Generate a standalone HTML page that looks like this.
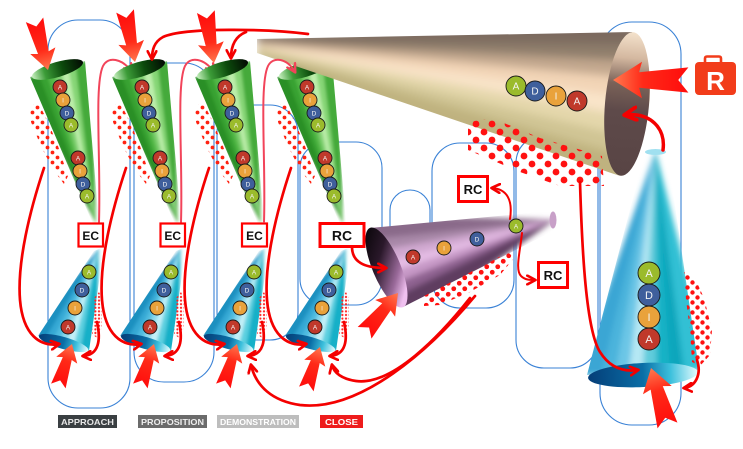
<!DOCTYPE html>
<html><head><meta charset="utf-8"><style>
html,body{margin:0;padding:0;background:#fff;}
svg{display:block;}
.k{stroke:#1a1a1a;stroke-width:.9}
.t{font-size:6.5px;fill:#f4f4f4;text-anchor:middle;font-family:"Liberation Sans",sans-serif}
.r{fill:none;stroke:#f40000;stroke-width:2.7;stroke-linecap:round}
.p{fill:none;stroke:#f2445a;stroke-width:2;stroke-linecap:round}
.bx{font-family:"Liberation Sans",sans-serif;font-weight:bold;text-anchor:middle;fill:#111}
.lg{font-family:"Liberation Sans",sans-serif;font-weight:bold;font-size:8.5px;text-anchor:middle}
</style></head><body>
<svg width="743" height="449" viewBox="0 0 743 449" xmlns="http://www.w3.org/2000/svg">
<defs>
<pattern id="pd" width="10" height="10" patternUnits="userSpaceOnUse"><circle cx="2.5" cy="2.5" r="1.9" fill="#f21"/><circle cx="7.5" cy="7.5" r="1.9" fill="#f21"/></pattern>
<pattern id="pf" width="3.6" height="3.6" patternUnits="userSpaceOnUse"><circle cx="1.8" cy="1.8" r="1.1" fill="#f22"/></pattern>
<pattern id="pb" width="16" height="16" patternUnits="userSpaceOnUse"><circle cx="4" cy="4" r="3.4" fill="#f11"/><circle cx="12" cy="12" r="3.4" fill="#f11"/></pattern>
<pattern id="pm" width="11" height="11" patternUnits="userSpaceOnUse"><circle cx="2.75" cy="2.75" r="2.4" fill="#f11"/><circle cx="8.25" cy="8.25" r="2.4" fill="#f11"/></pattern>
<pattern id="pr" width="10" height="10" patternUnits="userSpaceOnUse"><circle cx="2.5" cy="2.5" r="2.2" fill="#f11"/><circle cx="7.5" cy="7.5" r="2.2" fill="#f11"/></pattern>
<marker id="ah" viewBox="0 0 10 10" refX="8" refY="5" markerWidth="11" markerHeight="11" markerUnits="userSpaceOnUse" orient="auto"><path d="M1,1 L8.5,5 L1,9" fill="none" stroke="#f40000" stroke-width="2.4" stroke-linecap="round" stroke-linejoin="round"/></marker>
<marker id="ahp" viewBox="0 0 10 10" refX="8" refY="5" markerWidth="11" markerHeight="11" markerUnits="userSpaceOnUse" orient="auto"><path d="M1,1 L8.5,5 L1,9" fill="none" stroke="#f2445a" stroke-width="2.2" stroke-linecap="round" stroke-linejoin="round"/></marker>
<marker id="ahb" viewBox="0 0 10 10" refX="8" refY="5" markerWidth="16" markerHeight="16" markerUnits="userSpaceOnUse" orient="auto"><path d="M1,1 L8.5,5 L1,9" fill="none" stroke="#f40000" stroke-width="2.4" stroke-linecap="round" stroke-linejoin="round"/></marker>
<linearGradient id="gA" gradientUnits="userSpaceOnUse" x1="-52" y1="0" x2="0" y2="0"><stop offset="0" stop-color="#ff0c0c"/><stop offset="0.6" stop-color="#ff2a18"/><stop offset="1" stop-color="#ff7a50"/></linearGradient>
<linearGradient id="gGT" x1="0" y1="0" x2="1" y2="0"><stop offset="0" stop-color="#c8f0c0"/><stop offset="0.25" stop-color="#3c9c38"/><stop offset="0.6" stop-color="#0c4a0c"/><stop offset="1" stop-color="#020a02"/></linearGradient>
<linearGradient id="gBB" x1="0" y1="0" x2="1" y2="0"><stop offset="0" stop-color="#053e78"/><stop offset="0.5" stop-color="#0a6ea6"/><stop offset="0.75" stop-color="#3cc0dc"/><stop offset="1" stop-color="#e6fcff"/></linearGradient>
<linearGradient id="gPI" x1="0" y1="0" x2="0.4" y2="1"><stop offset="0" stop-color="#000"/><stop offset="0.45" stop-color="#2a182a"/><stop offset="0.8" stop-color="#9a6a9a"/><stop offset="1" stop-color="#f0c0f0"/></linearGradient>
<linearGradient id="gBI" x1="0" y1="0" x2="0" y2="1"><stop offset="0" stop-color="#f4e2cc"/><stop offset="0.18" stop-color="#d4b8a0"/><stop offset="0.36" stop-color="#7a6258"/><stop offset="0.55" stop-color="#5e4a4a"/><stop offset="1" stop-color="#584444"/></linearGradient>
<filter id="b1" x="-20%" y="-20%" width="140%" height="140%"><feGaussianBlur stdDeviation="1.6"/></filter>
<filter id="b2" x="-20%" y="-20%" width="140%" height="140%"><feGaussianBlur stdDeviation="3"/></filter>
<filter id="b3" x="-20%" y="-20%" width="140%" height="140%"><feGaussianBlur stdDeviation="4.5"/></filter>
<clipPath id="clG"><polygon points="30,77 93,224 99,222 85,61"/></clipPath>
<clipPath id="clB"><polygon points="94,251 38,336 89,351 104,247"/></clipPath>
<clipPath id="clR"><polygon points="645,152 587,375 699,370 667,151"/></clipPath>
<clipPath id="clP"><polygon points="370,228 551,211 557,229 403,307"/></clipPath>
<clipPath id="clBe"><polygon points="257,39 632,32 642,45 648,62 650,80 650,100 647,120 641,140 632,158 620,176 257,53"/></clipPath>
</defs>
<rect width="743" height="449" fill="#fff"/>

<!-- blue outlines -->
<g fill="none" stroke="#3a82d6" stroke-width="1.1">
<rect x="48" y="20" width="82" height="388" rx="30"/>
<rect x="134" y="63" width="80" height="319" rx="30"/>
<rect x="217" y="105" width="81" height="235" rx="28"/>
<rect x="300" y="142" width="82" height="163" rx="26"/>
<rect x="390" y="190" width="40" height="110" rx="20"/>
<rect x="432" y="143" width="82" height="165" rx="28"/>
<rect x="516" y="135" width="82" height="233" rx="28"/>
<rect x="600" y="22" width="81" height="403" rx="32"/>
</g>

<!-- COLUMN 1 -->
<g>
<g clip-path="url(#clG)"><g filter="url(#b1)" stroke-width="0.6">
<polygon points="95.5,222 24,80 32,77" fill="#2a8f26" stroke="#2a8f26"/>
<polygon points="95.5,222 32,77 39.3,74.9" fill="#2a8f26" stroke="#2a8f26"/>
<polygon points="95.5,222 39.3,74.9 46.6,72.7" fill="#38a232" stroke="#38a232"/>
<polygon points="95.5,222 46.6,72.7 53.9,70.6" fill="#52b846" stroke="#52b846"/>
<polygon points="95.5,222 53.9,70.6 61.1,68.4" fill="#7fd070" stroke="#7fd070"/>
<polygon points="95.5,222 61.1,68.4 68.4,66.3" fill="#bdeeab" stroke="#bdeeab"/>
<polygon points="95.5,222 68.4,66.3 75.7,64.1" fill="#86d676" stroke="#86d676"/>
<polygon points="95.5,222 75.7,64.1 83,62" fill="#44aa3a" stroke="#44aa3a"/>
<polygon points="95.5,222 83,62 92,59" fill="#44aa3a" stroke="#44aa3a"/>
</g></g>
<ellipse cx="57.5" cy="69.5" rx="26.5" ry="7.5" transform="rotate(-16.4 57.5 69.5)" fill="url(#gGT)"/>
<polygon points="30,106 38,102 48,122 58,146 68,176 64,184 52,168 40,144 31,122" fill="url(#pd)"/>
<circle class="k" cx="60" cy="87" r="7" fill="#c0392b"/><text class="t" x="60" y="89.3">A</text>
<circle class="k" cx="63" cy="100" r="7" fill="#e9a23b"/><text class="t" x="63" y="102.3">I</text>
<circle class="k" cx="67" cy="113" r="7" fill="#3f5f9c"/><text class="t" x="67" y="115.3">D</text>
<circle class="k" cx="71" cy="125" r="7" fill="#9bbb2c"/><text class="t" x="71" y="127.3">A</text>
<circle class="k" cx="78" cy="158" r="7" fill="#c0392b"/><text class="t" x="78" y="160.3">A</text>
<circle class="k" cx="80" cy="171" r="7" fill="#e9a23b"/><text class="t" x="80" y="173.3">I</text>
<circle class="k" cx="83" cy="184" r="7" fill="#3f5f9c"/><text class="t" x="83" y="186.3">D</text>
<circle class="k" cx="87" cy="196" r="7" fill="#9bbb2c"/><text class="t" x="87" y="198.3">A</text>
<g clip-path="url(#clB)"><g filter="url(#b1)" stroke-width="0.6">
<polygon points="98.5,249 31,333 39,336" fill="#1e90c0" stroke="#1e90c0"/>
<polygon points="98.5,249 39,336 46,338" fill="#1e90c0" stroke="#1e90c0"/>
<polygon points="98.5,249 46,338 53,340" fill="#34a8d4" stroke="#34a8d4"/>
<polygon points="98.5,249 53,340 60,342" fill="#50bce0" stroke="#50bce0"/>
<polygon points="98.5,249 60,342 67,344" fill="#8ad8ec" stroke="#8ad8ec"/>
<polygon points="98.5,249 67,344 74,346" fill="#c4f0f8" stroke="#c4f0f8"/>
<polygon points="98.5,249 74,346 81,348" fill="#5cd0e0" stroke="#5cd0e0"/>
<polygon points="98.5,249 81,348 88,350" fill="#18b0c8" stroke="#18b0c8"/>
<polygon points="98.5,249 88,350 96,353" fill="#18b0c8" stroke="#18b0c8"/>
</g></g>
<ellipse cx="63.5" cy="343" rx="25.5" ry="6" transform="rotate(16 63.5 343)" fill="url(#gBB)"/>
<polygon points="94,298 99,292 102,298 102,328 97,338 92,334 94,315" fill="url(#pf)"/>
<circle class="k" cx="89" cy="272" r="7" fill="#9bbb2c"/><text class="t" x="89" y="274.3">A</text>
<circle class="k" cx="82" cy="290" r="7" fill="#3f5f9c"/><text class="t" x="82" y="292.3">D</text>
<circle class="k" cx="75" cy="308" r="7" fill="#e9a23b"/><text class="t" x="75" y="310.3">I</text>
<circle class="k" cx="68" cy="327" r="7" fill="#c0392b"/><text class="t" x="68" y="329.3">A</text>
<path d="M44,168 C30,210 17,262 20,300 C23,335 40,347 59,344" class="r" marker-end="url(#ah)"/>
<path d="M97,322 C101,340 99,355 83,356" class="r" marker-end="url(#ah)"/>
<path transform="translate(72,344) rotate(-72) scale(0.85)" d="M0,0 L-20,-13 L-18,-5.5 L-52,-9 L-45,0 L-52,9 L-18,5.5 L-20,13 Z" fill="url(#gA)"/>
<path d="M99,222 C101,160 94,85 103,66 C108,56 122,58 132,72" class="p" marker-end="url(#ahp)"/>
<rect x="78.5" y="223.5" width="24.5" height="23" fill="#fff" stroke="#f00" stroke-width="2.2"/><text class="bx" x="90.7" y="240" font-size="12">EC</text>
</g>

<!-- COLUMN 2 -->
<g transform="translate(82,0)">
<g clip-path="url(#clG)"><g filter="url(#b1)" stroke-width="0.6">
<polygon points="95.5,222 24,80 32,77" fill="#2a8f26" stroke="#2a8f26"/>
<polygon points="95.5,222 32,77 39.3,74.9" fill="#2a8f26" stroke="#2a8f26"/>
<polygon points="95.5,222 39.3,74.9 46.6,72.7" fill="#38a232" stroke="#38a232"/>
<polygon points="95.5,222 46.6,72.7 53.9,70.6" fill="#52b846" stroke="#52b846"/>
<polygon points="95.5,222 53.9,70.6 61.1,68.4" fill="#7fd070" stroke="#7fd070"/>
<polygon points="95.5,222 61.1,68.4 68.4,66.3" fill="#bdeeab" stroke="#bdeeab"/>
<polygon points="95.5,222 68.4,66.3 75.7,64.1" fill="#86d676" stroke="#86d676"/>
<polygon points="95.5,222 75.7,64.1 83,62" fill="#44aa3a" stroke="#44aa3a"/>
<polygon points="95.5,222 83,62 92,59" fill="#44aa3a" stroke="#44aa3a"/>
</g></g>
<ellipse cx="57.5" cy="69.5" rx="26.5" ry="7.5" transform="rotate(-16.4 57.5 69.5)" fill="url(#gGT)"/>
<polygon points="30,106 38,102 48,122 58,146 68,176 64,184 52,168 40,144 31,122" fill="url(#pd)"/>
<circle class="k" cx="60" cy="87" r="7" fill="#c0392b"/><text class="t" x="60" y="89.3">A</text>
<circle class="k" cx="63" cy="100" r="7" fill="#e9a23b"/><text class="t" x="63" y="102.3">I</text>
<circle class="k" cx="67" cy="113" r="7" fill="#3f5f9c"/><text class="t" x="67" y="115.3">D</text>
<circle class="k" cx="71" cy="125" r="7" fill="#9bbb2c"/><text class="t" x="71" y="127.3">A</text>
<circle class="k" cx="78" cy="158" r="7" fill="#c0392b"/><text class="t" x="78" y="160.3">A</text>
<circle class="k" cx="80" cy="171" r="7" fill="#e9a23b"/><text class="t" x="80" y="173.3">I</text>
<circle class="k" cx="83" cy="184" r="7" fill="#3f5f9c"/><text class="t" x="83" y="186.3">D</text>
<circle class="k" cx="87" cy="196" r="7" fill="#9bbb2c"/><text class="t" x="87" y="198.3">A</text>
<g clip-path="url(#clB)"><g filter="url(#b1)" stroke-width="0.6">
<polygon points="98.5,249 31,333 39,336" fill="#1e90c0" stroke="#1e90c0"/>
<polygon points="98.5,249 39,336 46,338" fill="#1e90c0" stroke="#1e90c0"/>
<polygon points="98.5,249 46,338 53,340" fill="#34a8d4" stroke="#34a8d4"/>
<polygon points="98.5,249 53,340 60,342" fill="#50bce0" stroke="#50bce0"/>
<polygon points="98.5,249 60,342 67,344" fill="#8ad8ec" stroke="#8ad8ec"/>
<polygon points="98.5,249 67,344 74,346" fill="#c4f0f8" stroke="#c4f0f8"/>
<polygon points="98.5,249 74,346 81,348" fill="#5cd0e0" stroke="#5cd0e0"/>
<polygon points="98.5,249 81,348 88,350" fill="#18b0c8" stroke="#18b0c8"/>
<polygon points="98.5,249 88,350 96,353" fill="#18b0c8" stroke="#18b0c8"/>
</g></g>
<ellipse cx="63.5" cy="343" rx="25.5" ry="6" transform="rotate(16 63.5 343)" fill="url(#gBB)"/>
<polygon points="94,298 99,292 102,298 102,328 97,338 92,334 94,315" fill="url(#pf)"/>
<circle class="k" cx="89" cy="272" r="7" fill="#9bbb2c"/><text class="t" x="89" y="274.3">A</text>
<circle class="k" cx="82" cy="290" r="7" fill="#3f5f9c"/><text class="t" x="82" y="292.3">D</text>
<circle class="k" cx="75" cy="308" r="7" fill="#e9a23b"/><text class="t" x="75" y="310.3">I</text>
<circle class="k" cx="68" cy="327" r="7" fill="#c0392b"/><text class="t" x="68" y="329.3">A</text>
<path d="M44,168 C30,210 17,262 20,300 C23,335 40,347 59,344" class="r" marker-end="url(#ah)"/>
<path d="M97,322 C101,340 99,355 83,356" class="r" marker-end="url(#ah)"/>
<path transform="translate(72,344) rotate(-72) scale(0.85)" d="M0,0 L-20,-13 L-18,-5.5 L-52,-9 L-45,0 L-52,9 L-18,5.5 L-20,13 Z" fill="url(#gA)"/>
<path d="M99,222 C101,160 94,85 103,66 C108,56 122,58 132,72" class="p" marker-end="url(#ahp)"/>
<rect x="78.5" y="223.5" width="24.5" height="23" fill="#fff" stroke="#f00" stroke-width="2.2"/><text class="bx" x="90.7" y="240" font-size="12">EC</text>
</g>

<!-- COLUMN 3 -->
<g transform="translate(165,0)">
<g clip-path="url(#clG)"><g filter="url(#b1)" stroke-width="0.6">
<polygon points="95.5,222 24,80 32,77" fill="#2a8f26" stroke="#2a8f26"/>
<polygon points="95.5,222 32,77 39.3,74.9" fill="#2a8f26" stroke="#2a8f26"/>
<polygon points="95.5,222 39.3,74.9 46.6,72.7" fill="#38a232" stroke="#38a232"/>
<polygon points="95.5,222 46.6,72.7 53.9,70.6" fill="#52b846" stroke="#52b846"/>
<polygon points="95.5,222 53.9,70.6 61.1,68.4" fill="#7fd070" stroke="#7fd070"/>
<polygon points="95.5,222 61.1,68.4 68.4,66.3" fill="#bdeeab" stroke="#bdeeab"/>
<polygon points="95.5,222 68.4,66.3 75.7,64.1" fill="#86d676" stroke="#86d676"/>
<polygon points="95.5,222 75.7,64.1 83,62" fill="#44aa3a" stroke="#44aa3a"/>
<polygon points="95.5,222 83,62 92,59" fill="#44aa3a" stroke="#44aa3a"/>
</g></g>
<ellipse cx="57.5" cy="69.5" rx="26.5" ry="7.5" transform="rotate(-16.4 57.5 69.5)" fill="url(#gGT)"/>
<polygon points="30,106 38,102 48,122 58,146 68,176 64,184 52,168 40,144 31,122" fill="url(#pd)"/>
<circle class="k" cx="60" cy="87" r="7" fill="#c0392b"/><text class="t" x="60" y="89.3">A</text>
<circle class="k" cx="63" cy="100" r="7" fill="#e9a23b"/><text class="t" x="63" y="102.3">I</text>
<circle class="k" cx="67" cy="113" r="7" fill="#3f5f9c"/><text class="t" x="67" y="115.3">D</text>
<circle class="k" cx="71" cy="125" r="7" fill="#9bbb2c"/><text class="t" x="71" y="127.3">A</text>
<circle class="k" cx="78" cy="158" r="7" fill="#c0392b"/><text class="t" x="78" y="160.3">A</text>
<circle class="k" cx="80" cy="171" r="7" fill="#e9a23b"/><text class="t" x="80" y="173.3">I</text>
<circle class="k" cx="83" cy="184" r="7" fill="#3f5f9c"/><text class="t" x="83" y="186.3">D</text>
<circle class="k" cx="87" cy="196" r="7" fill="#9bbb2c"/><text class="t" x="87" y="198.3">A</text>
<g clip-path="url(#clB)"><g filter="url(#b1)" stroke-width="0.6">
<polygon points="98.5,249 31,333 39,336" fill="#1e90c0" stroke="#1e90c0"/>
<polygon points="98.5,249 39,336 46,338" fill="#1e90c0" stroke="#1e90c0"/>
<polygon points="98.5,249 46,338 53,340" fill="#34a8d4" stroke="#34a8d4"/>
<polygon points="98.5,249 53,340 60,342" fill="#50bce0" stroke="#50bce0"/>
<polygon points="98.5,249 60,342 67,344" fill="#8ad8ec" stroke="#8ad8ec"/>
<polygon points="98.5,249 67,344 74,346" fill="#c4f0f8" stroke="#c4f0f8"/>
<polygon points="98.5,249 74,346 81,348" fill="#5cd0e0" stroke="#5cd0e0"/>
<polygon points="98.5,249 81,348 88,350" fill="#18b0c8" stroke="#18b0c8"/>
<polygon points="98.5,249 88,350 96,353" fill="#18b0c8" stroke="#18b0c8"/>
</g></g>
<ellipse cx="63.5" cy="343" rx="25.5" ry="6" transform="rotate(16 63.5 343)" fill="url(#gBB)"/>
<polygon points="94,298 99,292 102,298 102,328 97,338 92,334 94,315" fill="url(#pf)"/>
<circle class="k" cx="89" cy="272" r="7" fill="#9bbb2c"/><text class="t" x="89" y="274.3">A</text>
<circle class="k" cx="82" cy="290" r="7" fill="#3f5f9c"/><text class="t" x="82" y="292.3">D</text>
<circle class="k" cx="75" cy="308" r="7" fill="#e9a23b"/><text class="t" x="75" y="310.3">I</text>
<circle class="k" cx="68" cy="327" r="7" fill="#c0392b"/><text class="t" x="68" y="329.3">A</text>
<path d="M44,168 C30,210 17,262 20,300 C23,335 40,347 59,344" class="r" marker-end="url(#ah)"/>
<path d="M97,322 C101,340 99,355 83,356" class="r" marker-end="url(#ah)"/>
<path transform="translate(72,344) rotate(-72) scale(0.85)" d="M0,0 L-20,-13 L-18,-5.5 L-52,-9 L-45,0 L-52,9 L-18,5.5 L-20,13 Z" fill="url(#gA)"/>
<rect x="77" y="223.5" width="25" height="23" fill="#fff" stroke="#f00" stroke-width="2.2"/><text class="bx" x="89.5" y="240" font-size="12">EC</text>
</g>

<!-- COLUMN 4 -->
<g transform="translate(247,0)">
<g clip-path="url(#clG)"><g filter="url(#b1)" stroke-width="0.6">
<polygon points="95.5,222 24,80 32,77" fill="#2a8f26" stroke="#2a8f26"/>
<polygon points="95.5,222 32,77 39.3,74.9" fill="#2a8f26" stroke="#2a8f26"/>
<polygon points="95.5,222 39.3,74.9 46.6,72.7" fill="#38a232" stroke="#38a232"/>
<polygon points="95.5,222 46.6,72.7 53.9,70.6" fill="#52b846" stroke="#52b846"/>
<polygon points="95.5,222 53.9,70.6 61.1,68.4" fill="#7fd070" stroke="#7fd070"/>
<polygon points="95.5,222 61.1,68.4 68.4,66.3" fill="#bdeeab" stroke="#bdeeab"/>
<polygon points="95.5,222 68.4,66.3 75.7,64.1" fill="#86d676" stroke="#86d676"/>
<polygon points="95.5,222 75.7,64.1 83,62" fill="#44aa3a" stroke="#44aa3a"/>
<polygon points="95.5,222 83,62 92,59" fill="#44aa3a" stroke="#44aa3a"/>
</g></g>
<ellipse cx="57.5" cy="69.5" rx="26.5" ry="7.5" transform="rotate(-16.4 57.5 69.5)" fill="url(#gGT)"/>
<polygon points="30,106 38,102 48,122 58,146 68,176 64,184 52,168 40,144 31,122" fill="url(#pd)"/>
<circle class="k" cx="60" cy="87" r="7" fill="#c0392b"/><text class="t" x="60" y="89.3">A</text>
<circle class="k" cx="63" cy="100" r="7" fill="#e9a23b"/><text class="t" x="63" y="102.3">I</text>
<circle class="k" cx="67" cy="113" r="7" fill="#3f5f9c"/><text class="t" x="67" y="115.3">D</text>
<circle class="k" cx="71" cy="125" r="7" fill="#9bbb2c"/><text class="t" x="71" y="127.3">A</text>
<circle class="k" cx="78" cy="158" r="7" fill="#c0392b"/><text class="t" x="78" y="160.3">A</text>
<circle class="k" cx="80" cy="171" r="7" fill="#e9a23b"/><text class="t" x="80" y="173.3">I</text>
<circle class="k" cx="83" cy="184" r="7" fill="#3f5f9c"/><text class="t" x="83" y="186.3">D</text>
<circle class="k" cx="87" cy="196" r="7" fill="#9bbb2c"/><text class="t" x="87" y="198.3">A</text>
<g clip-path="url(#clB)"><g filter="url(#b1)" stroke-width="0.6">
<polygon points="98.5,249 31,333 39,336" fill="#1e90c0" stroke="#1e90c0"/>
<polygon points="98.5,249 39,336 46,338" fill="#1e90c0" stroke="#1e90c0"/>
<polygon points="98.5,249 46,338 53,340" fill="#34a8d4" stroke="#34a8d4"/>
<polygon points="98.5,249 53,340 60,342" fill="#50bce0" stroke="#50bce0"/>
<polygon points="98.5,249 60,342 67,344" fill="#8ad8ec" stroke="#8ad8ec"/>
<polygon points="98.5,249 67,344 74,346" fill="#c4f0f8" stroke="#c4f0f8"/>
<polygon points="98.5,249 74,346 81,348" fill="#5cd0e0" stroke="#5cd0e0"/>
<polygon points="98.5,249 81,348 88,350" fill="#18b0c8" stroke="#18b0c8"/>
<polygon points="98.5,249 88,350 96,353" fill="#18b0c8" stroke="#18b0c8"/>
</g></g>
<ellipse cx="63.5" cy="343" rx="25.5" ry="6" transform="rotate(16 63.5 343)" fill="url(#gBB)"/>
<polygon points="94,298 99,292 102,298 102,328 97,338 92,334 94,315" fill="url(#pf)"/>
<circle class="k" cx="89" cy="272" r="7" fill="#9bbb2c"/><text class="t" x="89" y="274.3">A</text>
<circle class="k" cx="82" cy="290" r="7" fill="#3f5f9c"/><text class="t" x="82" y="292.3">D</text>
<circle class="k" cx="75" cy="308" r="7" fill="#e9a23b"/><text class="t" x="75" y="310.3">I</text>
<circle class="k" cx="68" cy="327" r="7" fill="#c0392b"/><text class="t" x="68" y="329.3">A</text>
<path d="M44,168 C30,210 17,262 20,300 C23,335 40,347 59,344" class="r" marker-end="url(#ah)"/>
<path d="M97,322 C101,340 99,355 83,356" class="r" marker-end="url(#ah)"/>
<path transform="translate(73,347) rotate(-72) scale(0.85)" d="M0,0 L-20,-13 L-18,-5.5 L-52,-9 L-45,0 L-52,9 L-18,5.5 L-20,13 Z" fill="url(#gA)"/>
</g>

<!-- BEIGE CONE -->
<g clip-path="url(#clBe)"><g filter="url(#b3)" stroke-width="0.6">
<polygon points="257,34 257,39 632,32 636,18" fill="#7b6b5f" stroke="#7b6b5f"/>
<polygon points="257,39 257,40.75 642,45 632,32" fill="#7b6b5f" stroke="#7b6b5f"/>
<polygon points="257,40.75 257,42.5 648,62 642,45" fill="#8f7e6c" stroke="#8f7e6c"/>
<polygon points="257,42.5 257,44.25 650,80 648,62" fill="#c2a78e" stroke="#c2a78e"/>
<polygon points="257,44.25 257,46 650,100 650,80" fill="#f2d4b6" stroke="#f2d4b6"/>
<polygon points="257,46 257,47.75 647,120 650,100" fill="#f9e4c9" stroke="#f9e4c9"/>
<polygon points="257,47.75 257,49.5 641,140 647,120" fill="#e4d7ab" stroke="#e4d7ab"/>
<polygon points="257,49.5 257,51.25 632,158 641,140" fill="#d0c594" stroke="#d0c594"/>
<polygon points="257,51.25 257,53 620,176 632,158" fill="#bfb27f" stroke="#bfb27f"/>
<polygon points="257,53 257,58 612,190 620,176" fill="#bfb27f" stroke="#bfb27f"/>
</g></g>
<ellipse cx="627" cy="104" rx="22" ry="72" transform="rotate(5 627 104)" fill="url(#gBI)"/>
<circle class="k" cx="516" cy="86" r="10" fill="#9bbb2c"/><text class="t" style="font-size:10px" x="516" y="89.5">A</text>
<circle class="k" cx="535" cy="91" r="10" fill="#3f5f9c"/><text class="t" style="font-size:10px" x="535" y="94.5">D</text>
<circle class="k" cx="556" cy="96" r="10" fill="#e9a23b"/><text class="t" style="font-size:10px" x="556" y="99.5">I</text>
<circle class="k" cx="577" cy="101" r="10" fill="#c0392b"/><text class="t" style="font-size:10px" x="577" y="104.5">A</text>
<polygon points="468,122 492,118 540,138 602,156 604,186 560,186 520,172 468,150" fill="url(#pb)"/>

<!-- pink arrow into cone 4 (over beige) -->
<path d="M264,222 C266,160 259,85 268,66 C273,56 287,58 295,72" class="p" marker-end="url(#ahp)"/>

<!-- PURPLE CONE -->
<g clip-path="url(#clP)"><g filter="url(#b2)" stroke-width="0.6">
<polygon points="554,220 362,214 370,228" fill="#8a6a8a" stroke="#8a6a8a"/>
<polygon points="554,220 370,228 374.7,239.3" fill="#8a6a8a" stroke="#8a6a8a"/>
<polygon points="554,220 374.7,239.3 379.4,250.6" fill="#a888a8" stroke="#a888a8"/>
<polygon points="554,220 379.4,250.6 384.1,261.9" fill="#d0a8d0" stroke="#d0a8d0"/>
<polygon points="554,220 384.1,261.9 388.9,273.1" fill="#e4bce4" stroke="#e4bce4"/>
<polygon points="554,220 388.9,273.1 393.6,284.4" fill="#c698c6" stroke="#c698c6"/>
<polygon points="554,220 393.6,284.4 398.3,295.7" fill="#8e6290" stroke="#8e6290"/>
<polygon points="554,220 398.3,295.7 403,307" fill="#5e3e60" stroke="#5e3e60"/>
<polygon points="554,220 403,307 410,322" fill="#5e3e60" stroke="#5e3e60"/>
</g></g>
<ellipse cx="553" cy="220" rx="3.5" ry="8.5" fill="#c8a0c8"/>
<ellipse cx="386.5" cy="267.5" rx="14" ry="43" transform="rotate(-22.7 386.5 267.5)" fill="url(#gPI)"/>
<circle class="k" cx="413" cy="257" r="7" fill="#c0392b"/><text class="t" x="413" y="259.3">A</text>
<circle class="k" cx="444" cy="248" r="7" fill="#e9a23b"/><text class="t" x="444" y="250.3">I</text>
<circle class="k" cx="477" cy="239" r="7" fill="#3f5f9c"/><text class="t" x="477" y="241.3">D</text>
<circle class="k" cx="516" cy="226" r="7" fill="#9bbb2c"/><text class="t" x="516" y="228.3">A</text>
<polygon points="424,296 455,280 490,262 508,252 514,258 500,275 470,292 440,305 424,306" fill="url(#pm)"/>

<!-- RIGHT BLUE CONE -->
<g clip-path="url(#clR)"><g filter="url(#b2)" stroke-width="0.6">
<polygon points="655.5,151 578,376 588,375" fill="#3aa6d4" stroke="#3aa6d4"/>
<polygon points="655.5,151 588,375 601.75,374.4" fill="#3aa6d4" stroke="#3aa6d4"/>
<polygon points="655.5,151 601.75,374.4 615.5,373.75" fill="#4cb4dc" stroke="#4cb4dc"/>
<polygon points="655.5,151 615.5,373.75 629.25,373.1" fill="#6cc6e6" stroke="#6cc6e6"/>
<polygon points="655.5,151 629.25,373.1 643,372.5" fill="#b6e8f4" stroke="#b6e8f4"/>
<polygon points="655.5,151 643,372.5 656.75,371.9" fill="#60ccdc" stroke="#60ccdc"/>
<polygon points="655.5,151 656.75,371.9 670.5,371.25" fill="#14b2c6" stroke="#14b2c6"/>
<polygon points="655.5,151 670.5,371.25 684.25,370.6" fill="#0ca6bc" stroke="#0ca6bc"/>
<polygon points="655.5,151 684.25,370.6 698,370" fill="#30c0d4" stroke="#30c0d4"/>
<polygon points="655.5,151 698,370 710,369" fill="#30c0d4" stroke="#30c0d4"/>
</g></g>
<ellipse cx="655.5" cy="152" rx="10.5" ry="3" fill="#a0e0f0"/>
<ellipse cx="643" cy="375" rx="55" ry="12" transform="rotate(-3 643 375)" fill="url(#gBB)"/>
<circle class="k" cx="649" cy="273" r="11" fill="#9bbb2c"/><text class="t" style="font-size:11px" x="649" y="277">A</text>
<circle class="k" cx="649" cy="295" r="11" fill="#3f5f9c"/><text class="t" style="font-size:11px" x="649" y="299">D</text>
<circle class="k" cx="649" cy="317" r="11" fill="#e9a23b"/><text class="t" style="font-size:11px" x="649" y="321">I</text>
<circle class="k" cx="649" cy="339" r="11" fill="#c0392b"/><text class="t" style="font-size:11px" x="649" y="343">A</text>
<polygon points="684,272 694,276 704,298 712,330 710,355 700,366 692,362 690,330 686,300" fill="url(#pr)"/>

<!-- red connectors -->
<path d="M308,34 C270,29 185,27 163,37 C154,42 152,50 152,59" class="r" marker-end="url(#ah)"/>
<path d="M246,32 C236,36 231,45 231,58" class="r" marker-end="url(#ah)"/>
<path d="M352,247 C352,262 364,268 386,268" class="r" marker-end="url(#ah)"/>
<path d="M510,219 C513,200 507,189 492,188" class="r" style="stroke-width:2" marker-end="url(#ah)"/>
<path d="M522,233 C520,252 515,270 521,276 C525,280 530,280 535,280" class="r" style="stroke-width:2" marker-end="url(#ah)"/>
<path d="M475,296 C430,350 360,412 300,405 C272,401 256,386 251,365" class="r" marker-end="url(#ah)"/>
<path d="M470,298 C440,336 392,386 356,381 C342,379 334,373 332,365" class="r" marker-end="url(#ah)"/>
<path d="M580,182 C582,250 586,330 600,352 C610,368 624,372 638,370" class="r" marker-end="url(#ah)"/>
<path d="M697,360 C702,375 695,387 684,388" class="r" marker-end="url(#ah)"/>
<path d="M663,150 C666,128 650,112 625,115" class="r" style="stroke-width:3.5" marker-end="url(#ahb)"/>

<!-- chevron arrows -->
<path transform="translate(48,70) rotate(75)" d="M0,0 L-20,-13 L-18,-5.5 L-52,-9 L-45,0 L-52,9 L-18,5.5 L-20,13 Z" fill="url(#gA)"/>
<path transform="translate(135,62) rotate(79)" d="M0,0 L-20,-13 L-18,-5.5 L-52,-9 L-45,0 L-52,9 L-18,5.5 L-20,13 Z" fill="url(#gA)"/>
<path transform="translate(214,63) rotate(81)" d="M0,0 L-20,-13 L-18,-5.5 L-52,-9 L-45,0 L-52,9 L-18,5.5 L-20,13 Z" fill="url(#gA)"/>
<path transform="translate(398,293) rotate(-50)" d="M0,0 L-20,-13 L-18,-5.5 L-52,-9 L-45,0 L-52,9 L-18,5.5 L-20,13 Z" fill="url(#gA)"/>
<path transform="translate(651,368) rotate(-106) scale(1.15)" d="M0,0 L-20,-13 L-18,-5.5 L-52,-9 L-45,0 L-52,9 L-18,5.5 L-20,13 Z" fill="url(#gA)"/>
<path transform="translate(613,80) rotate(180) scale(1.45,1.4)" d="M0,0 L-20,-13 L-18,-5.5 L-52,-9 L-45,0 L-52,9 L-18,5.5 L-20,13 Z" fill="url(#gA)"/>

<!-- RC boxes -->
<rect x="320" y="223.5" width="44" height="23" fill="#fff" stroke="#f00" stroke-width="3"/><text class="bx" x="342" y="240.5" font-size="14">RC</text>
<rect x="458.5" y="176.5" width="29" height="25" fill="#fff" stroke="#f00" stroke-width="3"/><text class="bx" x="473" y="194" font-size="13">RC</text>
<rect x="538.5" y="262.5" width="29" height="25" fill="#fff" stroke="#f00" stroke-width="3"/><text class="bx" x="553" y="280" font-size="13">RC</text>

<!-- R icon -->
<path d="M705,63 L705,58.5 Q705,56.5 707,56.5 L719,56.5 Q721,56.5 721,58.5 L721,63" fill="none" stroke="#f23c1a" stroke-width="2.6"/>
<rect x="695" y="62" width="41" height="33" rx="4" fill="#f23c1a"/>
<text x="715.5" y="90" font-family="Liberation Sans, sans-serif" font-weight="bold" font-size="26" fill="#fff" text-anchor="middle">R</text>

<!-- legend -->
<rect x="58" y="415" width="59" height="13" fill="#3a3f42"/><text class="lg" x="87.5" y="424.8" fill="#e6e6e6" textLength="53" lengthAdjust="spacingAndGlyphs">APPROACH</text>
<rect x="138" y="415" width="69" height="13" fill="#6b6b6b"/><text class="lg" x="172.5" y="424.8" fill="#eeeeee" textLength="63" lengthAdjust="spacingAndGlyphs">PROPOSITION</text>
<rect x="217" y="415" width="82" height="13" fill="#bdbdbd"/><text class="lg" x="258" y="424.8" fill="#ffffff" textLength="76" lengthAdjust="spacingAndGlyphs">DEMONSTRATION</text>
<rect x="320" y="415" width="43" height="13" fill="#ee1c1c"/><text class="lg" x="341.5" y="424.8" fill="#ffffff" textLength="33" lengthAdjust="spacingAndGlyphs">CLOSE</text>
</svg>
</body></html>
